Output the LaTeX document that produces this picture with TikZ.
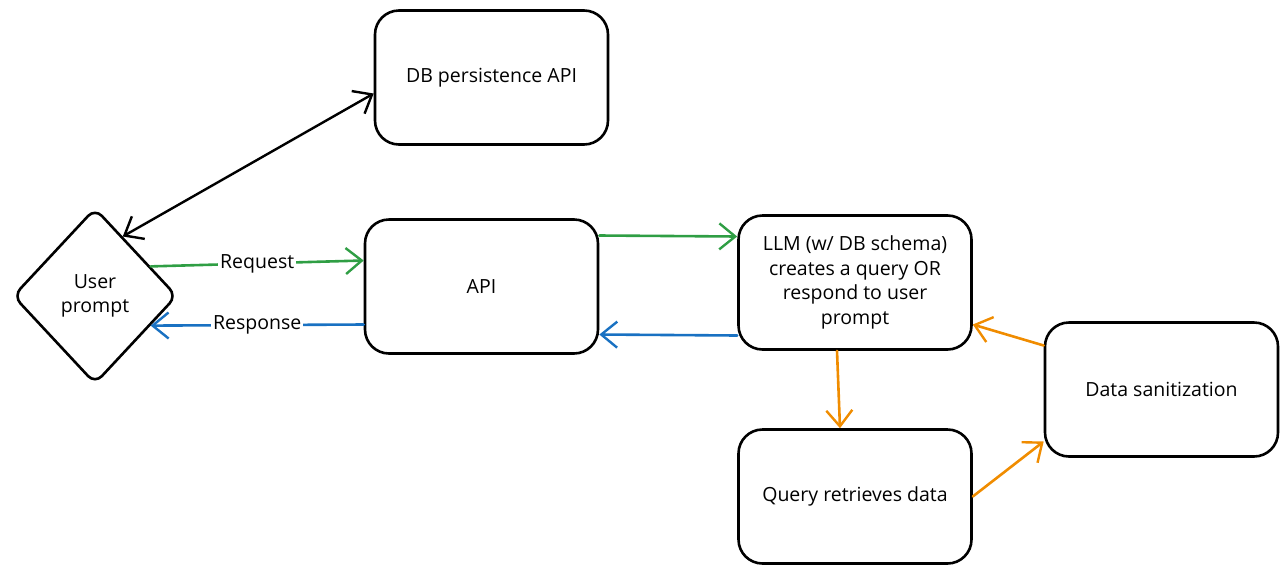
\documentclass[tikz,border=0pt]{standalone}
\usepackage{fontspec}
\setmainfont{Open Sans}
\usetikzlibrary{shapes.geometric,arrows.meta}
\definecolor{exgreen}{HTML}{2F9E44}
\definecolor{exblue}{HTML}{1971C2}
\definecolor{exorange}{HTML}{F08C00}
\begin{document}
\begin{tikzpicture}[x=1pt,y=-1pt,
  box/.style={draw=black,line width=2.6pt,rounded corners=24pt,minimum width=233pt,minimum height=134pt,inner sep=2pt,align=center,font=\fontsize{19.5}{24.5}\selectfont},
  dia/.style={draw=black,line width=2.6pt,diamond,rounded corners=10pt,minimum width=164pt,minimum height=176pt,inner sep=0pt,align=center,font=\fontsize{19.5}{24.5}\selectfont},
  barbtip/.tip={Straight Barb[length=16pt,width=26pt,line width=2.4pt]},
  conn/.style={line width=2.6pt,line cap=round,-{barbtip}},
  both/.style={line width=2.4pt,{barbtip}-{barbtip}},
  lbl/.style={fill=white,inner sep=2pt,font=\fontsize{19.5}{22}\selectfont}]
\useasboundingbox (0,0) rectangle (1288,574);
\node[box] (db) at (491.5,77.5) {DB persistence API};
\node[dia] (user) at (95,296) {User\\prompt};
\node[box] (api) at (481.5,286.5) {API};
\node[box] (llm) at (855,282.5) {LLM (w/ DB schema)\\creates a query OR\\respond to user\\prompt};
\node[box] (query) at (855,496.5) {Query retrieves data};
\node[box] (ds) at (1161.5,389.5) {Data sanitization};
\draw[both,black] (user.65) -- ([yshift=-16pt]db.west);
\draw[conn,exgreen] (user.28) -- node[lbl,text=black] {Request} ([yshift=26pt]api.west);
\draw[conn,exblue] ([yshift=-38pt]api.west) -- node[lbl,text=black] {Response} (user.-28);
\draw[conn,exgreen] ([yshift=51pt]api.east) -- ([yshift=46pt]llm.west);
\draw[conn,exblue] ([yshift=-53pt]llm.west) -- ([yshift=-48pt]api.east);
\draw[conn,exorange] ([xshift=-18pt]llm.south) -- ([xshift=-15pt]query.north);
\draw[conn,exorange] (query.east) -- ([yshift=-52pt]ds.west);
\draw[conn,exorange] ([yshift=44pt]ds.west) -- ([yshift=-42pt]llm.east);
\end{tikzpicture}
\end{document}
